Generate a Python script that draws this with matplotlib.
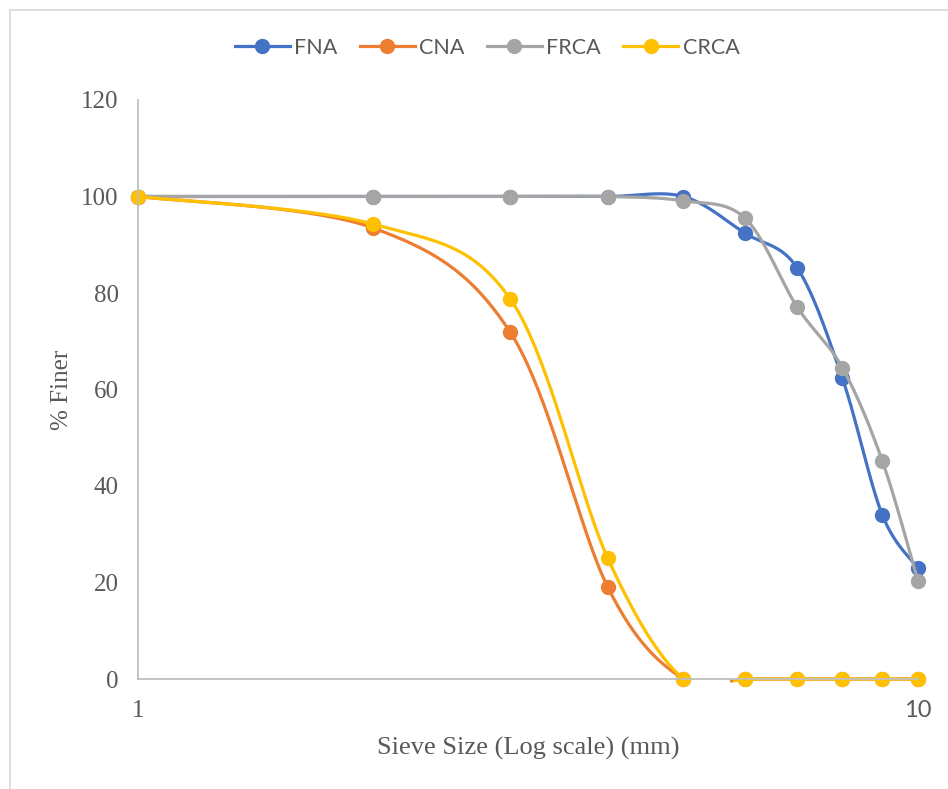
import numpy as np
import matplotlib.pyplot as plt
from matplotlib.lines import Line2D
from matplotlib.ticker import NullLocator

# sieve sizes (mm) and % finer for each mix
sizes = [1, 2, 3, 4, 5, 6, 7, 8, 9, 10]
fna = [100, 100, 100, 100, 100, 92.4, 85.2, 62.3, 34.0, 23.0]
cna = [100, 93.5, 71.9, 19.1, 0, 0, 0, 0, 0, 0]
frca = [100, 100, 100, 100, 99.1, 95.5, 77.1, 64.5, 45.2, 20.3]
crca = [100, 94.3, 78.8, 25.1, 0, 0, 0, 0, 0, 0]

series = [("FNA", fna, "#4472C4"), ("CNA", cna, "#ED7D31"),
          ("FRCA", frca, "#A5A5A5"), ("CRCA", crca, "#FFC000")]

txt = "#595959"


def smooth(xs, ys, n=40):
    # excel-like bezier smoothing, done in log-x space
    u = np.log10(np.array(xs, dtype=float))
    v = np.array(ys, dtype=float)
    pts = np.column_stack([u, v])
    out = []
    for i in range(len(pts) - 1):
        p0 = pts[max(i - 1, 0)]
        p1 = pts[i]
        p2 = pts[i + 1]
        p3 = pts[min(i + 2, len(pts) - 1)]
        c1 = p1 + (p2 - p0) / 6
        c2 = p2 - (p3 - p1) / 6
        t = np.linspace(0, 1, n)[:, None]
        seg = ((1 - t) ** 3 * p1 + 3 * (1 - t) ** 2 * t * c1
               + 3 * (1 - t) * t ** 2 * c2 + t ** 3 * p2)
        out.append(seg if i == 0 else seg[1:])
    out = np.vstack(out)
    yy = out[:, 1].copy()
    yy[yy < -0.5] = np.nan  # excel hides the part under the axis
    return 10 ** out[:, 0], yy


fig = plt.figure(figsize=(9.48, 7.89), dpi=100)
ax = fig.add_axes([138 / 948, 1 - 679 / 789, 780 / 948, 579 / 789])

for name, vals, col in series:
    sx, sy = smooth(sizes, vals)
    ax.plot(sx, sy, color=col, lw=2.3, clip_on=False, solid_capstyle="butt")
    ax.plot(sizes, vals, "o", color=col, ms=10, clip_on=False)

ax.set_xscale("log")
ax.set_xlim(1, 10)
ax.set_ylim(0, 120)
ax.set_yticks(range(0, 121, 20))
ax.set_xticks([1, 10])
ax.set_xticklabels(["1", "10"])
ax.xaxis.set_minor_locator(NullLocator())
ax.tick_params(length=0, colors=txt, labelsize=18, pad=14)
ax.tick_params(axis="x", pad=15)
for lab in ax.get_yticklabels():
    lab.set_fontfamily("Liberation Serif")
xl = ax.get_xticklabels()
xl[0].set_fontfamily("Liberation Serif")
xl[1].set_fontfamily("Lato")
xl[1].set_fontsize(17)

for s in ["top", "right"]:
    ax.spines[s].set_visible(False)
for s in ["left", "bottom"]:
    ax.spines[s].set_color("#BFBFBF")
    ax.spines[s].set_linewidth(1.3)

ax.set_ylabel("% Finer", fontsize=18, color=txt, family="Liberation Serif",
              labelpad=6)
ax.set_xlabel("Sieve Size (Log scale) (mm)", fontsize=19, color=txt,
              family="Liberation Serif", labelpad=11)

handles = [Line2D([], [], color=c, lw=2.3, marker="o", ms=10) for _, _, c in series]
fig.legend(handles, [n for n, _, _ in series], loc="center", ncol=4,
           bbox_to_anchor=(487 / 948, 1 - 48 / 789), frameon=False,
           prop={"family": "Lato", "size": 15.5}, labelcolor=txt,
           handlelength=2.55, handletextpad=0.2, columnspacing=1.05)

# light chart-area border
fig.add_artist(Line2D([10 / 948, 1], [1 - 10 / 789] * 2, color="#D9D9D9", lw=1.2))
fig.add_artist(Line2D([10 / 948] * 2, [0, 1 - 10 / 789], color="#D9D9D9", lw=1.2))

fig.savefig("out.png", dpi=100)
